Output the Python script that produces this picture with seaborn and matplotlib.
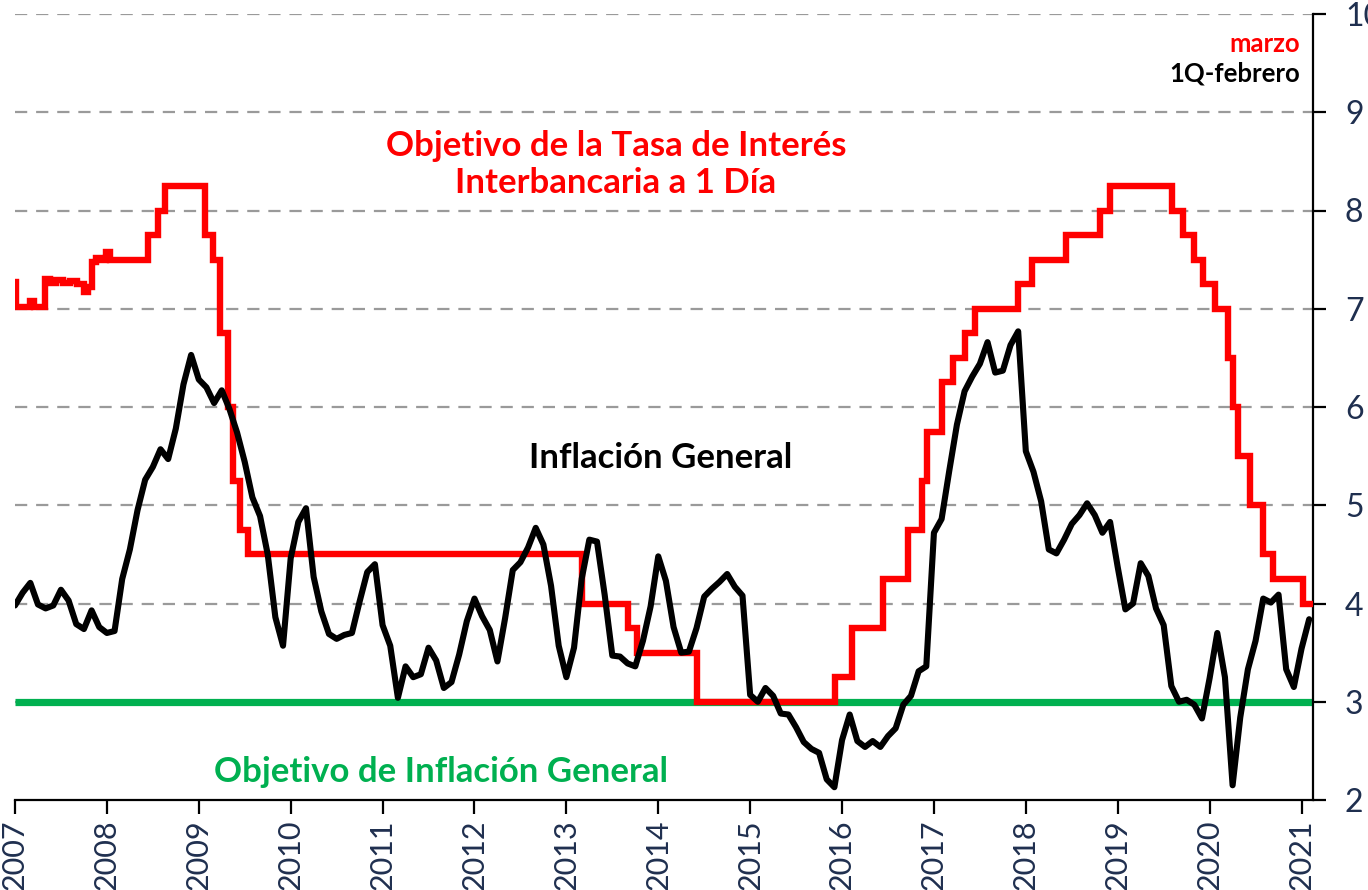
import numpy as np
import pandas as pd
import matplotlib
matplotlib.use("Agg")
import matplotlib.pyplot as plt
import seaborn as sns

# Headline inflation, annual % change, monthly from Jan-2007 (last point: 1st half of Feb-2021)
inflation_2007 = [3.98, 4.11, 4.21, 3.99, 3.95, 3.98, 4.14, 4.03, 3.79, 3.74, 3.93, 3.76]
inflation_2008 = [3.70, 3.72, 4.25, 4.55, 4.95, 5.26, 5.39, 5.57, 5.47, 5.78, 6.23, 6.53]
inflation_2009 = [6.28, 6.20, 6.04, 6.17, 5.98, 5.74, 5.44, 5.08, 4.89, 4.50, 3.86, 3.57]
inflation_2010 = [4.46, 4.83, 4.97, 4.27, 3.92, 3.69, 3.64, 3.68, 3.70, 4.02, 4.32, 4.40]
inflation_2011 = [3.78, 3.57, 3.04, 3.36, 3.25, 3.28, 3.55, 3.42, 3.14, 3.20, 3.48, 3.82]
inflation_2012 = [4.05, 3.87, 3.73, 3.41, 3.85, 4.34, 4.42, 4.57, 4.77, 4.60, 4.18, 3.57]
inflation_2013 = [3.25, 3.55, 4.25, 4.65, 4.63, 4.09, 3.47, 3.46, 3.39, 3.36, 3.62, 3.97]
inflation_2014 = [4.48, 4.23, 3.76, 3.50, 3.51, 3.75, 4.07, 4.15, 4.22, 4.30, 4.17, 4.08]
inflation_2015 = [3.07, 3.00, 3.14, 3.06, 2.88, 2.87, 2.74, 2.59, 2.52, 2.48, 2.21, 2.13]
inflation_2016 = [2.61, 2.87, 2.60, 2.54, 2.60, 2.54, 2.65, 2.73, 2.97, 3.06, 3.31, 3.36]
inflation_2017 = [4.72, 4.86, 5.35, 5.82, 6.16, 6.31, 6.44, 6.66, 6.35, 6.37, 6.63, 6.77]
inflation_2018 = [5.55, 5.34, 5.04, 4.55, 4.51, 4.65, 4.81, 4.90, 5.02, 4.90, 4.72, 4.83]
inflation_2019 = [4.37, 3.94, 4.00, 4.41, 4.28, 3.95, 3.78, 3.16, 3.00, 3.02, 2.97, 2.83]
inflation_2020 = [3.24, 3.70, 3.25, 2.15, 2.84, 3.33, 3.62, 4.05, 4.01, 4.09, 3.33, 3.15]
inflation_2021 = [3.54, 3.84]

# Overnight interbank rate target, % (decimal-year of each change, new level)
rate_dates = [2007.00, 2007.01, 2007.16, 2007.21, 2007.33, 2007.38, 2007.45, 2007.52,
              2007.60, 2007.68, 2007.75, 2007.79, 2007.84, 2007.88, 2007.93, 2007.99,
              2008.03, 2008.45, 2008.56, 2008.63, 2009.07, 2009.15, 2009.23, 2009.32,
              2009.37, 2009.45, 2009.54, 2013.17, 2013.67, 2013.77, 2014.42, 2015.92,
              2016.11, 2016.45, 2016.72, 2016.87, 2016.92, 2017.09, 2017.21, 2017.34,
              2017.45, 2017.91, 2018.07, 2018.44, 2018.81, 2018.92, 2019.59, 2019.71,
              2019.83, 2019.93, 2020.06, 2020.20, 2020.25, 2020.31, 2020.44, 2020.58,
              2020.69, 2021.02, 2021.12]
rate_levels = [7.27, 7.02, 7.08, 7.02, 7.30, 7.26, 7.29, 7.26,
               7.28, 7.25, 7.17, 7.22, 7.48, 7.52, 7.50, 7.58,
               7.50, 7.75, 8.00, 8.25, 7.75, 7.50, 6.75, 6.00,
               5.25, 4.75, 4.50, 4.00, 3.75, 3.50, 3.00, 3.25,
               3.75, 4.25, 4.75, 5.25, 5.75, 6.25, 6.50, 6.75,
               7.00, 7.25, 7.50, 7.75, 8.00, 8.25, 8.00, 7.75,
               7.50, 7.25, 7.00, 6.50, 6.00, 5.50, 5.00, 4.50,
               4.25, 4.00, 4.00]

inflation_target = 3.0

year_ticks = list(range(2007, 2022))
y_ticks = list(range(2, 11))

inflation = (inflation_2007 + inflation_2008 + inflation_2009 + inflation_2010 +
             inflation_2011 + inflation_2012 + inflation_2013 + inflation_2014 +
             inflation_2015 + inflation_2016 + inflation_2017 + inflation_2018 +
             inflation_2019 + inflation_2020 + inflation_2021)
months = pd.date_range("2007-01-01", periods=len(inflation), freq="MS")
infl_df = pd.DataFrame({"t": months.year + (months.month - 1) / 12.0,
                        "inflacion": inflation})
rate_df = pd.DataFrame({"t": rate_dates, "tasa": rate_levels})

sns.set_theme(style="white")
plt.rcParams["font.family"] = ["Lato", "DejaVu Sans"]

fig = plt.figure(figsize=(13.68, 8.90), dpi=100)
ax = fig.add_axes([15 / 1368, 90 / 890, (1313 - 15) / 1368, (800 - 14) / 890])

# horizontal dashed grid
for yv in y_ticks[1:]:
    ax.axhline(yv, color="#9a9a9a", lw=1.6, dashes=(5.5, 4), zorder=1)

ax.axhline(inflation_target, color="#00b050", lw=5.2, zorder=2, solid_capstyle="butt")

sns.lineplot(data=rate_df, x="t", y="tasa", ax=ax, color="#ff0000", lw=4.6,
             drawstyle="steps-post", estimator=None, sort=False, zorder=3,
             solid_joinstyle="miter")
sns.lineplot(data=infl_df, x="t", y="inflacion", ax=ax, color="black", lw=4.4,
             estimator=None, sort=False, zorder=4, solid_joinstyle="round")

ax.set_xlim(2007, 2021.125)
ax.set_ylim(2, 10)
ax.set_xlabel("")
ax.set_ylabel("")

ax.set_xticks(year_ticks)
ax.set_xticklabels([str(y) for y in year_ticks], rotation=90)
ax.set_yticks(y_ticks)
ax.yaxis.tick_right()

navy = "#1f2f4f"
ax.tick_params(axis="x", direction="out", length=10, width=1.6, color="black",
               labelsize=22, labelcolor=navy, pad=4, bottom=True)
ax.tick_params(axis="y", direction="out", length=9, width=1.6, color="black",
               labelsize=23, labelcolor=navy, pad=14, right=True, left=False)

for side in ["left", "top"]:
    ax.spines[side].set_visible(False)
for side in ["bottom", "right"]:
    ax.spines[side].set_visible(True)
    ax.spines[side].set_color("black")
    ax.spines[side].set_linewidth(1.6)

ax.text(2013.54, 8.47, "Objetivo de la Tasa de Interés\nInterbancaria a 1 Día",
        color="#ff0000", fontsize=25, fontweight="bold", ha="center", va="center",
        linespacing=1.2)
ax.text(2014.03, 5.48, "Inflación General", color="black", fontsize=25,
        fontweight="bold", ha="center", va="center")
ax.text(2011.64, 2.29, "Objetivo de Inflación General", color="#00b050", fontsize=25,
        fontweight="bold", ha="center", va="center")
ax.text(2020.98, 9.69, "marzo", color="#ff0000", fontsize=18.5, fontweight="bold",
        ha="right", va="center")
ax.text(2020.98, 9.39, "1Q-febrero", color="black", fontsize=18.5, fontweight="bold",
        ha="right", va="center")

fig.savefig("out.png", dpi=100)
